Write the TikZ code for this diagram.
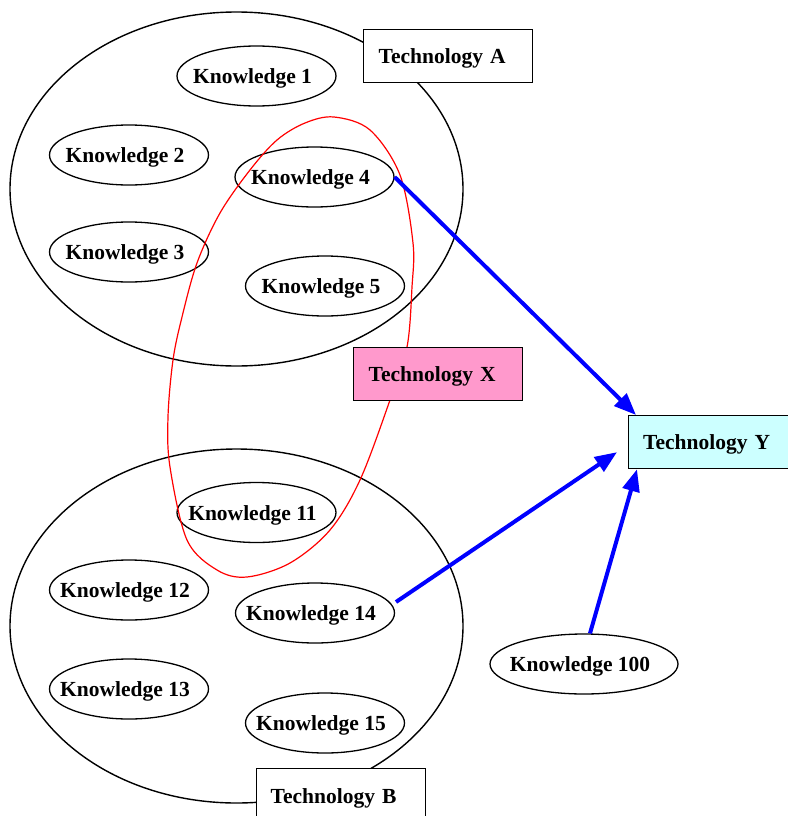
\documentclass[tikz,border=0pt]{standalone}
\usepackage{fontspec}
\setmainfont{Liberation Serif}
\usetikzlibrary{arrows.meta,calc,shapes.geometric}
\definecolor{pinkx}{HTML}{FF99CC}
\definecolor{cyany}{HTML}{CCFFFF}
\newcommand{\ktext}[1]{\makebox[0pt]{\hspace*{-8pt}\raisebox{-7.5pt}[0pt][0pt]{#1}}}
\newcommand{\ttext}[2][-7.5pt]{\raisebox{#1}[0pt][0pt]{#2}}
\begin{document}
\begin{tikzpicture}[x=1pt,y=-1pt,
  lbl/.style={font=\fontsize{21.5}{24}\selectfont\bfseries},
  know/.style={lbl,draw,line width=1.3pt,ellipse,minimum width=159pt,minimum height=60pt,inner sep=0pt},
  tech/.style={lbl,draw,line width=1.3pt,rectangle,minimum width=169pt,minimum height=53pt,inner sep=0pt,anchor=north west,text width=165pt,align=left},
  grp/.style={draw,line width=1.4pt},
  link/.style={draw=blue,line width=4pt,-{Triangle[length=22pt,width=17pt]}}]
\useasboundingbox (0,0) rectangle (787,816);
% groups
\draw[grp] (236.5,189) ellipse [x radius=226.5, y radius=177];
\draw[grp] (236.5,626) ellipse [x radius=226.5, y radius=177];
% knowledge
\node[know] (k1) at (256.5,76) {\ktext{Knowledge 1}};
\node[know] (k2) at (129,155) {\ktext{Knowledge 2}};
\node[know] (k4) at (314.5,177) {\ktext{Knowledge 4}};
\node[know] (k3) at (129,252) {\ktext{Knowledge 3}};
\node[know] (k5) at (325,286) {\ktext{Knowledge 5}};
\node[know] (k11) at (256.5,512.5) {\ktext{Knowledge 11}};
\node[know] (k12) at (129,590) {\ktext{Knowledge 12}};
\node[know] (k14) at (315,613) {\ktext{Knowledge 14}};
\node[know] (k13) at (129,689) {\ktext{Knowledge 13}};
\node[know] (k15) at (325,723) {\ktext{Knowledge 15}};
\node[know,minimum width=188pt] (k100) at (584,664) {\ktext{Knowledge 100}};
% red blob
\draw[red,line width=1.2pt] plot[smooth cycle,tension=0.55] coordinates{
 (334,117) (370,130) (400,175) (413,243) (412,287) (407,347) (390,400)
 (360,480) (330,530) (290,563) (247,577) (217,570) (187,540) (170,467)
 (168,417) (173,360) (182,317) (197,263) (220,213) (250,170) (277,140) (305,123)};
% technologies
\node[tech,fill=white] (ta) at (363,29) {\hspace*{13pt}\ttext{Technology A}};
\node[tech,fill=pinkx] (tx) at (353,347) {\hspace*{13pt}\ttext{Technology X}};
\node[tech,fill=cyany,minimum width=170pt] (ty) at (628,415) {\hspace*{12pt}\ttext{Technology Y}};
\node[tech,fill=white,minimum height=60pt] (tb) at (256,768) {\hspace*{12pt}\ttext[-4.5pt]{Technology B}};
% links
\coordinate (s14) at ($(k14.center)+(81,-11)$);
\coordinate (e4) at ($(ty.north west)+(8,0)$);
\coordinate (e14) at ($(ty.west)+(-11,10)$);
\coordinate (e100) at ($(ty.south west)+(9,0)$);
\draw[link] (k4.east) -- (e4);
\draw[link] (s14) -- (e14);
\draw[link] (k100.north) ++(6,0) coordinate (s100) -- (e100);
\end{tikzpicture}
\end{document}
